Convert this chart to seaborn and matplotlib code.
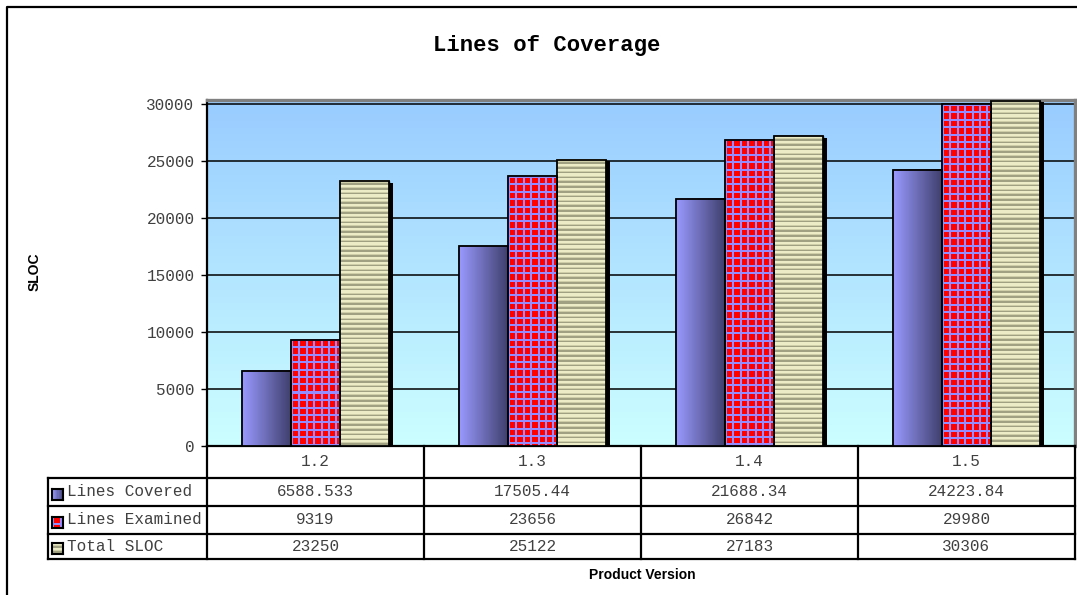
import numpy as np
import pandas as pd
import matplotlib
matplotlib.use("Agg")
import matplotlib.pyplot as plt
import matplotlib.patheffects as pe
from matplotlib.lines import Line2D
from matplotlib.patches import Rectangle
import seaborn as sns

# ---- data -------------------------------------------------------------
versions = ["1.2", "1.3", "1.4", "1.5"]
series = ["Lines Covered", "Lines Examined", "Total SLOC"]
lines_covered = [6588.533, 17505.44, 21688.34, 24223.84]
lines_examined = [9319, 23656, 26842, 29980]
total_sloc = [23250, 25122, 27183, 30306]
y_ticks = [0, 5000, 10000, 15000, 20000, 25000, 30000]

series_values = [lines_covered, lines_examined, total_sloc]
df = pd.DataFrame(
    [(v, s, vals[i]) for s, vals in zip(series, series_values) for i, v in enumerate(versions)],
    columns=["version", "series", "value"],
)

# ---- fill textures (pixel-based) --------------------------------------
def tex_gradient(h, w):
    left = np.array([153, 153, 255], float)
    right = np.array([64, 64, 110], float)
    t = np.linspace(0, 1, max(w, 1))[None, :, None]
    img = left * (1 - t) + right * t
    return np.broadcast_to(img, (h, w, 3)).astype(np.uint8)

def tex_grid(h, w, period=7.4, lw=2.0):
    red = np.array([255, 0, 0])
    line = np.array([150, 140, 255])
    my = ((np.arange(h) + 0.5) % period) < lw
    mx = ((np.arange(w) + 0.5) % period) < lw
    mask = my[:, None] | mx[None, :]
    return np.where(mask[..., None], line, red).astype(np.uint8)

def tex_stripes(h, w, period=4.8):
    phase = ((np.arange(h) + 0.5) % period) / period
    light = np.array([236, 236, 198])
    mid = np.array([206, 206, 168])
    dark = np.array([160, 160, 130])
    rows = np.where((phase < 0.45)[:, None], light,
                    np.where((phase < 0.65)[:, None], mid, dark))
    return np.broadcast_to(rows[:, None, :], (h, w, 3)).astype(np.uint8)

textures = [tex_gradient, tex_grid, tex_stripes]
palette = {"Lines Covered": "#7070C0", "Lines Examined": "#FF0000", "Total SLOC": "#D2D2AA"}

# ---- figure -------------------------------------------------------------
W, H = 1077, 595
fig = plt.figure(figsize=(W / 100, H / 100), dpi=100, facecolor="white")
mono = "Liberation Mono"
sans = "Liberation Sans"

ax = fig.add_axes([207 / W, 1 - 446 / H, 868 / W, 346 / H])

sns.barplot(
    data=df, x="version", y="value", hue="series",
    order=versions, hue_order=series, palette=palette,
    width=0.675, gap=0, saturation=1, errorbar=None, legend=False,
    edgecolor="black", linewidth=1.0, zorder=3, ax=ax,
)

ax.set_xlim(-0.5, len(versions) - 0.5)
ax.set_ylim(0, 30350)

# vertical background gradient of the plot area
bg = np.linspace(0, 1, 256)[:, None, None]
top_c = np.array([153, 204, 255]) / 255
bot_c = np.array([204, 255, 255]) / 255
bg_img = top_c * (1 - bg) + bot_c * bg
ax.imshow(bg_img, extent=(0, 1, 0, 1), transform=ax.transAxes,
          aspect="auto", zorder=0.1, interpolation="bilinear")

ax.yaxis.grid(True, color="black", linewidth=1.1)
ax.set_axisbelow(True)

# textured bar fills with drop shadow and outline
shadow = [pe.SimplePatchShadow(offset=(3.0, -1.2), shadow_rgbFace="black", alpha=1.0), pe.Normal()]
for cont, tex in zip(ax.containers, textures):
    for bar in cont:
        bar.set_path_effects(shadow)
        x0, y0 = bar.get_xy()
        bw, bh = bar.get_width(), bar.get_height()
        p0 = ax.transData.transform((x0, y0))
        p1 = ax.transData.transform((x0 + bw, y0 + bh))
        wpx = max(int(round(abs(p1[0] - p0[0]))), 1)
        hpx = max(int(round(abs(p1[1] - p0[1]))), 1)
        ax.imshow(tex(hpx, wpx), extent=(x0, x0 + bw, y0, y0 + bh),
                  aspect="auto", interpolation="nearest", zorder=3.5)
        ax.add_patch(Rectangle((x0, y0), bw, bh, fill=False, edgecolor="black",
                               linewidth=1.3, zorder=4))

ax.set_xlim(-0.5, len(versions) - 0.5)
ax.set_ylim(0, 30350)

# axes styling
for side in ("left", "bottom"):
    ax.spines[side].set_color("black")
    ax.spines[side].set_linewidth(1.6)
for side in ("top", "right"):
    ax.spines[side].set_color("#808080")
    ax.spines[side].set_linewidth(2.4)
ax.set_xticks([])
ax.set_yticks(y_ticks)
ax.set_yticklabels([str(t) for t in y_ticks], fontfamily=mono, fontsize=11.5, color="#404040")
ax.tick_params(axis="y", length=4, width=1, color="black", pad=5)
ax.set_xlabel("")
ax.set_ylabel("")

# ---- data table ---------------------------------------------------------
tax = fig.add_axes([207 / W, 1 - 559 / H, 868 / W, 113 / H])
tax.set_xlim(-0.5, len(versions) - 0.5)
tax.set_ylim(113, 0)
tax.axis("off")

row_edges = [0, 32, 60, 88, 113]
label_left = -159 / 868
label_text_x = -140 / 868
ytr = tax.get_yaxis_transform()
line_kw = dict(color="black", linewidth=1.6, clip_on=False, solid_capstyle="projecting")

for y in row_edges[1:]:
    tax.plot([label_left, 1], [y, y], transform=ytr, **line_kw)
for b in np.arange(-0.5, len(versions)):
    tax.plot([b, b], [row_edges[0], row_edges[-1]], **line_kw)
tax.plot([label_left, label_left], [row_edges[1], row_edges[-1]], transform=ytr, **line_kw)

txt_kw = dict(fontfamily=mono, fontsize=11.5, color="#404040", va="center")
header_c = (row_edges[0] + row_edges[1]) / 2
for i, v in enumerate(versions):
    tax.text(i, header_c, v, ha="center", **txt_kw)

for r, (name, vals, tex) in enumerate(zip(series, series_values, textures)):
    yc = (row_edges[r + 1] + row_edges[r + 2]) / 2
    for i, val in enumerate(vals):
        tax.text(i, yc, f"{val:.10g}", ha="center", **txt_kw)
    tax.text(label_text_x, yc, name, transform=ytr, ha="left", **txt_kw)
    # legend key
    yc_px = 446 + yc + 2
    kax = fig.add_axes([52 / W, 1 - (yc_px + 5.5) / H, 11 / W, 11 / H])
    kax.imshow(tex(11, 11), aspect="auto", interpolation="nearest")
    kax.set_xticks([])
    kax.set_yticks([])
    for s in kax.spines.values():
        s.set_color("black")
        s.set_linewidth(1.5)

# ---- titles and labels --------------------------------------------------
fig.text(547 / W, 1 - 45 / H, "Lines of Coverage", fontfamily=mono, fontweight="bold",
         fontsize=16, ha="center", va="center", color="black")
fig.text(35 / W, 1 - 272 / H, "SLOC", fontfamily=sans, fontweight="bold", fontsize=10,
         rotation=90, ha="center", va="center", color="black")
fig.text(642 / W, 1 - 575 / H, "Product Version", fontfamily=sans, fontweight="bold",
         fontsize=10, ha="center", va="center", color="black")

# outer chart frame
fig.add_artist(Line2D([7 / W, 7 / W, 1.01], [-0.01, 1 - 7 / H, 1 - 7 / H],
                      color="black", linewidth=1.6, transform=fig.transFigure))

fig.savefig("out.png", dpi=100, facecolor="white")
